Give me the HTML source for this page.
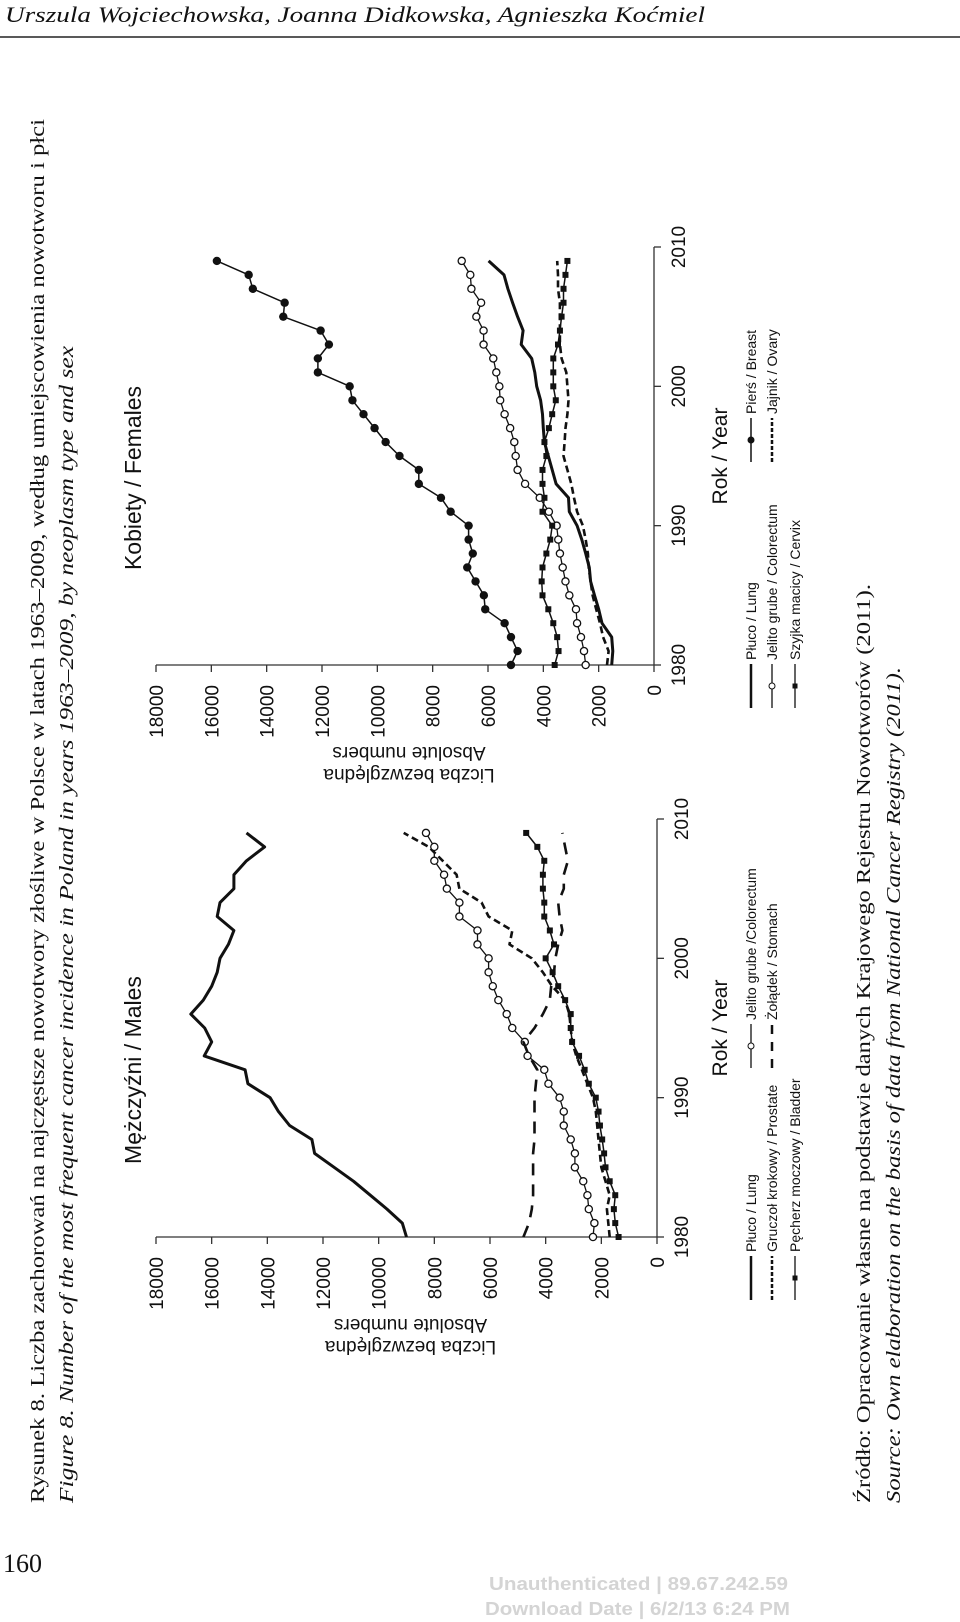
<!DOCTYPE html>
<html><head><meta charset="utf-8">
<style>
html,body{margin:0;padding:0;background:#fff;}
svg{display:block;}
.serif{font-family:"Liberation Serif",serif;}
.sans{font-family:"Liberation Sans",sans-serif;}
</style></head>
<body>
<svg id="page" width="960" height="1622" viewBox="0 0 960 1622" xmlns="http://www.w3.org/2000/svg">
  <text class="serif" x="5" y="22" font-size="22" font-style="italic" textLength="700" lengthAdjust="spacingAndGlyphs" fill="#111">Urszula Wojciechowska, Joanna Didkowska, Agnieszka Koćmiel</text>
  <line x1="0" y1="37" x2="960" y2="37" stroke="#222" stroke-width="1.5"/>

  <text class="serif" transform="translate(44,1503) rotate(-90)" font-size="20" textLength="1384" lengthAdjust="spacingAndGlyphs" fill="#111">Rysunek 8.  Liczba zachorowań na najczęstsze nowotwory złośliwe w Polsce w latach 1963–2009, według umiejscowienia nowotworu i płci</text>
  <text class="serif" transform="translate(73,1503) rotate(-90)" font-size="20" font-style="italic" textLength="1157" lengthAdjust="spacingAndGlyphs" fill="#111">Figure 8.   Number of the most frequent cancer incidence in Poland in years 1963–2009, by neoplasm type and sex</text>

  <text class="serif" transform="translate(870,1503) rotate(-90)" font-size="20" textLength="919" lengthAdjust="spacingAndGlyphs" fill="#111">Źródło: Opracowanie własne na podstawie danych Krajowego Rejestru Nowotworów (2011).</text>
  <text class="serif" transform="translate(900,1503) rotate(-90)" font-size="20" font-style="italic" textLength="836" lengthAdjust="spacingAndGlyphs" fill="#111">Source: Own elaboration on the basis of data from National Cancer Registry (2011).</text>

  <text class="serif" x="3" y="1572" font-size="26" fill="#111">160</text>
  <text class="sans" x="489" y="1590" font-size="18" font-weight="bold" fill="#d4d4d4" textLength="299" lengthAdjust="spacingAndGlyphs">Unauthenticated | 89.67.242.59</text>
  <text class="sans" x="485" y="1615" font-size="18" font-weight="bold" fill="#d4d4d4" textLength="305" lengthAdjust="spacingAndGlyphs">Download Date | 6/2/13 6:24 PM</text>

  <g id="males"></g>
  <g id="females"></g>
</svg>
<script>
// ---- data ----
const years = [1980,1981,1982,1983,1984,1985,1986,1987,1988,1989,1990,1991,1992,1993,1994,1995,1996,1997,1998,1999,2000,2001,2002,2003,2004,2005,2006,2007,2008,2009];
const valueTicks = [0,2000,4000,6000,8000,10000,12000,14000,16000,18000];
const yearTicks = [1980,1990,2000,2010];

const maleLung = [9000,9150,9700,10300,10900,11600,12300,12400,13200,13600,13900,14700,14800,16270,16000,16250,16750,16300,16000,15800,15700,15400,15200,15800,15700,15200,15200,14750,14100,14750];
const maleProstate = [1700,1750,1800,1700,1850,2000,2050,2100,2150,2200,2300,2500,2700,2900,3050,3100,3150,3300,3770,4100,4500,5300,5200,6050,6300,7100,7200,7700,8200,9100];
const maleColorectum = [2300,2250,2450,2500,2650,2950,2950,3100,3350,3350,3500,3900,4050,4650,4750,5200,5400,5700,5900,6050,6050,6450,6450,7100,7100,7550,7650,8000,8000,8300];
const maleStomach = [4800,4600,4500,4450,4450,4450,4450,4400,4400,4400,4400,4350,4300,4600,4800,4400,4100,3850,3800,3700,3650,3550,3400,3500,3550,3350,3350,3200,3300,3400];
const maleBladder = [1380,1500,1550,1500,1700,1850,1900,1970,2050,2100,2200,2450,2600,2800,3050,3100,3100,3300,3550,3750,4000,3700,3850,4050,4050,4100,4100,4050,4300,4700];

const femLung = [1530,1490,1530,1880,2000,2150,2290,2340,2470,2610,2780,3060,3090,3540,3680,3820,3960,4000,4030,4100,4240,4310,4420,4800,4730,4930,5110,5280,5420,5980];
const femColorectum = [2470,2530,2640,2780,2820,3060,3200,3300,3400,3460,3520,3800,4130,4660,4930,5000,5050,5200,5400,5560,5590,5700,5810,6160,6160,6420,6250,6600,6640,6950];
const femCervix = [3590,3450,3500,3640,3820,4030,4060,4030,3890,3750,3680,4030,3960,4030,4030,3890,3960,3800,3680,3550,3640,3640,3640,3470,3400,3340,3270,3270,3200,3130];
const femBreast = [5170,4930,5170,5400,6100,6150,6450,6750,6550,6700,6700,7350,7700,8500,8500,9200,9700,10100,10500,10900,11000,12150,12150,11750,12050,13400,13350,14500,14650,15800];
const femOvary = [1700,1640,1840,1950,2090,2220,2290,2360,2390,2470,2570,2780,2890,2990,3130,3270,3230,3200,3130,3090,3130,3170,3340,3400,3400,3400,3400,3470,3470,3500];

const NS = 'http://www.w3.org/2000/svg';
function mk(tag, attrs, parent){
  const e = document.createElementNS(NS, tag);
  for (const k in attrs) e.setAttribute(k, attrs[k]);
  parent.appendChild(e);
  return e;
}

function buildChart(g, P){
  const xv = v => P.x0 - v * (P.x0 - P.x18) / 18000;
  const yy = yr => P.y1980 - (yr - 1980) * (P.y1980 - P.y2010) / 30;

  const va = mk('line', {x1: xv(18000), y1: P.y1980, x2: xv(0), y2: P.y1980, stroke:'#333', 'stroke-width':1.3}, g);
  
  
  valueTicks.forEach(v => {
    const t = mk('line', {x1: xv(v), y1: P.y1980, x2: xv(v), y2: P.y1980 + 7, stroke:'#333', 'stroke-width':1.3}, g);
    
    
    const l = mk('text', {transform:`translate(${xv(v)+7},${P.y1980+20}) rotate(-90)`, 'text-anchor':'end', 'font-size':19, class:'sans', fill:'#111'}, g);
    l.textContent = v;
    
    
  });
  const ya = mk('line', {x1: P.x0, y1: yy(1980), x2: P.x0, y2: yy(2010), stroke:'#333', 'stroke-width':1.3}, g);
  
  
  yearTicks.forEach(yr => {
    const t = mk('line', {x1: P.x0, y1: yy(yr), x2: P.x0 + 7, y2: yy(yr), stroke:'#333', 'stroke-width':1.3}, g);
    
    
    const l = mk('text', {transform:`translate(${P.x0+31},${yy(yr)}) rotate(-90)`, 'text-anchor':'middle', 'font-size':19, class:'sans', fill:'#111'}, g);
    l.textContent = yr;
    
    
  });
  const cx = (xv(0) + xv(18000)) / 2 + 4;
  const t1 = mk('text', {transform:`translate(${cx},${P.y1980+82}) rotate(180)`, 'text-anchor':'middle', 'font-size':19, class:'sans', fill:'#111'}, g);
  t1.textContent = 'Absolute numbers';
  
  
  const t2 = mk('text', {transform:`translate(${cx},${P.y1980+104}) rotate(180)`, 'text-anchor':'middle', 'font-size':19, class:'sans', fill:'#111'}, g);
  t2.textContent = 'Liczba bezwzględna';
  
  
  const t3 = mk('text', {transform:`translate(727,${(yy(1980)+yy(2010))/2}) rotate(-90)`, 'text-anchor':'middle', 'font-size':21, class:'sans', fill:'#111'}, g);
  t3.textContent = 'Rok / Year';
  
  
  const t4 = mk('text', {transform:`translate(141,${P.titleY}) rotate(-90)`, 'text-anchor':'middle', 'font-size':23, class:'sans', fill:'#111'}, g);
  t4.textContent = P.title;
  
  

  P.series.forEach(s => {
    const pts = s.data.map((v,i) => xv(v).toFixed(1) + ',' + yy(years[i]).toFixed(1)).join(' ');
    const pl = mk('polyline', {points: pts, fill:'none', stroke:'#111', 'stroke-width': s.w, 'stroke-dasharray': s.dash || 'none', 'stroke-linejoin':'round'}, g);
    
    
    if (s.marker) {
      s.data.forEach((v,i) => {
        let m;
        if (s.marker === 'open') m = mk('circle', {cx: xv(v), cy: yy(years[i]), r: 3.6, fill:'#fff', stroke:'#111', 'stroke-width':1.3}, g);
        else if (s.marker === 'dot') m = mk('circle', {cx: xv(v), cy: yy(years[i]), r: 4.2, fill:'#111'}, g);
        else m = mk('rect', {x: xv(v)-3, y: yy(years[i])-3, width: 6, height: 6, fill:'#111'}, g);
        
        
      });
    }
  });

  P.legend.forEach(L => {
    const lx = L.x, y1 = L.y, y2 = L.y - 44;
    const ln = mk('line', {x1: lx, y1: y1, x2: lx, y2: y2, stroke:'#111', 'stroke-width': L.w, 'stroke-dasharray': L.dash || 'none'}, g);
    
    
    if (L.marker === 'open') { const m = mk('circle', {cx: lx, cy: (y1+y2)/2, r: 3, fill:'#fff', stroke:'#111'}, g);   }
    if (L.marker === 'dot') { const m = mk('circle', {cx: lx, cy: (y1+y2)/2, r: 3.5, fill:'#111'}, g);   }
    if (L.marker === 'sq') { const m = mk('rect', {x: lx-2.5, y: (y1+y2)/2-2.5, width:5, height:5, fill:'#111'}, g);   }
    const tx = mk('text', {transform:`translate(${lx+5},${y2-4}) rotate(-90)`, 'font-size':14, class:'sans', fill:'#111'}, g);
    tx.textContent = L.label;
    
    
  });
}

buildChart(document.getElementById('males'), {
  x0: 657, x18: 156, y1980: 1237, y2010: 819, title: 'Mężczyźni / Males', titleY: 1070,
  series: [
    {name:'male-lung', data: maleLung, w: 3},
    {name:'male-prostate', data: maleProstate, w: 2.6, dash: '7 4'},
    {name:'male-colorectum', data: maleColorectum, w: 1.3, marker: 'open'},
    {name:'male-stomach', data: maleStomach, w: 2.6, dash: '12 9'},
    {name:'male-bladder', data: maleBladder, w: 1.5, marker: 'sq'}
  ],
  legend: [
    {x: 751, y: 1300, w: 2.5, label: 'Płuco / Lung'},
    {x: 772, y: 1300, w: 2.5, dash: '4 2', label: 'Gruczoł krokowy / Prostate'},
    {x: 795, y: 1300, w: 1.3, marker: 'sq', label: 'Pęcherz moczowy / Bladder'},
    {x: 751, y: 1068, w: 1.3, marker: 'open', label: 'Jelito grube /Colorectum'},
    {x: 772, y: 1068, w: 2.5, dash: '9 8', label: 'Żołądek / Stomach'}
  ]
});

buildChart(document.getElementById('females'), {
  x0: 654, x18: 156, y1980: 665, y2010: 247, title: 'Kobiety / Females', titleY: 478,
  series: [
    {name:'female-lung', data: femLung, w: 3},
    {name:'female-colorectum', data: femColorectum, w: 1.3, marker: 'open'},
    {name:'female-cervix', data: femCervix, w: 1.5, marker: 'sq'},
    {name:'female-breast', data: femBreast, w: 1.5, marker: 'dot'},
    {name:'female-ovary', data: femOvary, w: 2.6, dash: '7 4'}
  ],
  legend: [
    {x: 751, y: 708, w: 2.5, label: 'Płuco / Lung'},
    {x: 772, y: 708, w: 1.3, marker: 'open', label: 'Jelito grube / Colorectum'},
    {x: 795, y: 708, w: 1.3, marker: 'sq', label: 'Szyjka macicy / Cervix'},
    {x: 751, y: 462, w: 1.5, marker: 'dot', label: 'Pierś / Breast'},
    {x: 772, y: 462, w: 2.5, dash: '4 2', label: 'Jajnik / Ovary'}
  ]
});
</script>
</body></html>
